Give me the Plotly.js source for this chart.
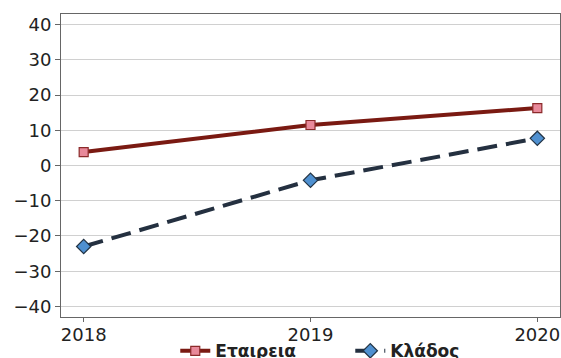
<!DOCTYPE html>
<html><head><meta charset="utf-8">
<script src="https://cdn.plot.ly/plotly-3.0.1.min.js"></script>
<style>html,body{margin:0;padding:0;background:#fff;}</style>
</head><body>
<div id="chart" style="width:561px;height:358px;"></div>
<script>
var years = [2018, 2019, 2020];
var companyName = "Εταιρεια";
var companyValues = [3.8, 11.5, 16.3];
var sectorName = "Κλάδος";
var sectorValues = [-23, -4.2, 7.7];
var yTicks = [-40, -30, -20, -10, 0, 10, 20, 30, 40];

var traces = [
  {x: years, y: companyValues, name: companyName, type: "scatter", mode: "lines+markers",
   line: {color: "#7a1a12", width: 4},
   marker: {symbol: "square", size: 9, color: "#e8899a", line: {color: "#8b2a2a", width: 1.2}}},
  {x: years, y: sectorValues, name: sectorName, type: "scatter", mode: "lines+markers",
   line: {color: "#243040", width: 4, dash: "20px,9px"},
   marker: {symbol: "diamond", size: 11, color: "#4f90d0", line: {color: "#223344", width: 1.2}}}
];
var layout = {
  width: 561, height: 358,
  margin: {l: 61, r: 1, t: 14, b: 41, autoexpand: false},
  paper_bgcolor: "#fff", plot_bgcolor: "#fff",
  font: {family: "DejaVu Sans, Verdana, sans-serif", size: 18, color: "#222"},
  showlegend: true,
  legend: {orientation: "h", x: 0.229, xanchor: "left", y: -0.113, yanchor: "middle",
           bgcolor: "rgba(0,0,0,0)", entrywidthmode: "pixels", entrywidth: 130,
           font: {size: 17, family: "DejaVu Sans", weight: "bold", color: "#222"}, tracegroupgap: 0},
  xaxis: {range: [2017.9, 2020.1], tickvals: years, ticktext: years.map(String),
          showgrid: false, zeroline: false, showline: true, mirror: true, linecolor: "#666", linewidth: 1,
          ticks: "outside", ticklen: 4, tickcolor: "#666", ticklabelstandoff: -3},
  yaxis: {range: [-43, 43], tickvals: yTicks, ticktext: yTicks.map(function(v){return v<0 ? "\u2212"+Math.abs(v) : String(v);}),
          showgrid: true, gridcolor: "#d0d0d0", gridwidth: 1, zeroline: false,
          showline: true, mirror: true, linecolor: "#666", linewidth: 1,
          ticks: "outside", ticklen: 5, tickcolor: "#666"}
};
Plotly.newPlot("chart", traces, layout, {displayModeBar: false, staticPlot: true});
</script>
</body></html>
